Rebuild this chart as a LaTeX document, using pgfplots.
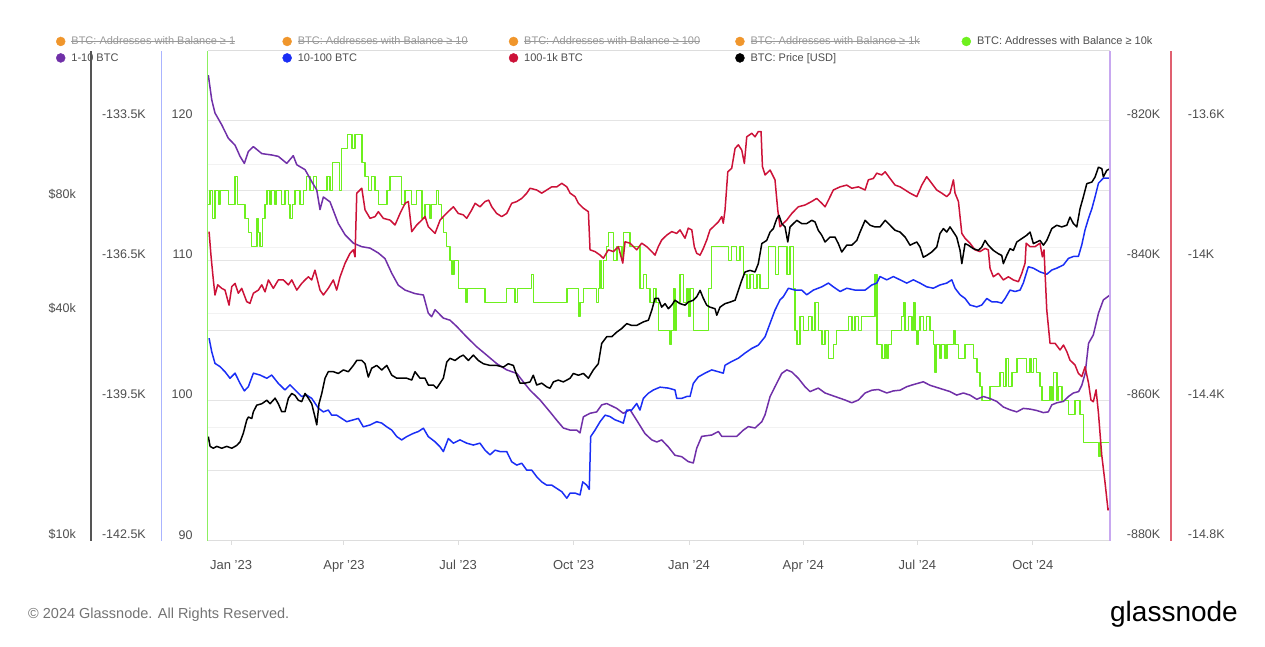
\documentclass[border=0pt]{standalone}
\usepackage{pgfplots}
\pgfplotsset{compat=1.18}
\usepackage{pgfplotstable}
\usepackage{fontspec}
\setmainfont{Liberation Sans}

\newlength\strikew
\newcommand\strike[1]{\settowidth\strikew{#1}\rlap{#1}\rule[0.3em]{\strikew}{0.55pt}}

\definecolor{cPurple}{HTML}{7030A8}
\definecolor{cBlue}{HTML}{1A2EF5}
\definecolor{cRed}{HTML}{CC1238}
\definecolor{cGreen}{HTML}{6EF01E}
\definecolor{cOrange}{HTML}{F0962C}
\definecolor{cTick}{HTML}{4D4D4D}
\definecolor{cStrike}{HTML}{999999}
\definecolor{cGrid}{HTML}{E4E4E4}
\definecolor{cGridFaint}{HTML}{F2F2F2}
\definecolor{cBorder}{HTML}{DDDDDD}
\definecolor{axBlack}{HTML}{555555}
\definecolor{axBlue}{HTML}{AAB4FF}
\definecolor{axGreen}{HTML}{8CF060}
\definecolor{axPurple}{HTML}{C8A8F0}
\definecolor{axRed}{HTML}{E06070}

% d = days since 1 Jan 2023, v = value (thousands)
\pgfplotstableread{
d v
-18.1 114
-16.7 115
-14.9 113
-12.8 115
-10.1 114
-8.8 115
-2.2 114
3.2 116
5.0 114
11.2 113
13.8 112
16.5 111
20.5 113
21.8 112
23.1 111
25.0 113
27.1 114
28.5 115
31.1 114
32.4 115
35.1 114
36.4 115
40.4 114
43.0 115
45.7 114
47.0 113
48.9 114
51.0 115
55.0 114
57.6 115
60.3 116
63.0 115
65.6 116
68.3 115
76.3 116
78.9 115
80.7 117
86.3 115
88.2 118
93.0 119
96.2 118
98.8 119
104.2 117
106.8 116
109.4 115
112.1 116
114.8 115
117.4 114
124.1 115
126.7 116
136.0 114
138.7 115
144.0 114
148.0 115
152.0 113
154.6 114
158.6 113
159.9 114
163.9 115
165.2 114
167.9 113
169.2 112
171.9 111
174.5 110
175.9 109
177.7 110
181.1 108
187.3 107
188.3 108
202.4 107
219.7 108
226.3 107
228.2 108
239.6 109
240.9 107
267.6 108
276.8 106
278.1 107
280.8 108
291.4 107
292.7 108
294.1 110
295.4 108
296.7 110
299.4 111
300.7 112
304.7 110
307.4 111
311.4 110
312.6 112
318.0 111
326.0 108
328.6 109
331.3 108
333.9 107
336.6 108
338.7 107
340.5 105
349.9 104
351.2 105
352.5 108
353.8 105
355.2 107
357.8 109
360.5 107
363.2 108
364.4 106
365.8 108
368.4 105
380.4 108
383.1 111
396.3 110
399.0 111
403.0 110
405.6 111
408.3 109
411.0 108
413.6 109
416.3 108
419.0 109
421.6 108
428.2 111
434.1 109
436.2 111
442.9 109
445.6 111
448.2 108
449.6 105
450.9 104
453.5 106
456.2 105
460.1 106
462.8 105
465.4 107
468.0 105
470.8 104
473.4 105
476.1 103
480.0 104
482.7 105
492.0 106
494.7 105
497.3 106
500.0 105
502.6 106
513.2 109
514.6 104
518.6 103
521.3 104
522.6 103
523.9 104
526.5 105
534.5 106
535.8 107
537.2 105
539.8 106
542.5 105
543.8 107
545.2 105
546.5 104
547.8 105
549.1 106
551.7 105
554.4 106
557.1 105
559.7 104
561.1 102
562.4 104
565.0 103
566.4 104
569.0 103
570.4 104
575.7 105
577.0 104
579.7 103
585.0 104
591.6 103
594.3 102
596.9 101
598.3 100
604.9 101
612.9 102
615.5 101
617.6 103
619.5 101
622.2 102
626.2 103
634.1 102
636.8 103
638.1 102
639.4 103
642.1 102
644.7 101
646.1 100
652.7 101
654.1 100
655.4 102
658.1 100
659.4 101
662.1 100
667.4 99
672.6 100
676.6 99
679.2 97
691.3 96
692.6 97
700.5 97
}\tabgreen

\pgfplotstableread{
d v
-18.1 -813.5
-15.4 -817.0
-12.8 -818.9
-7.4 -820.6
-2.2 -822.5
3.2 -823.5
7.2 -825.1
10.6 -826.1
13.8 -824.4
17.8 -823.7
24.5 -824.7
32.4 -824.9
37.7 -825.1
44.4 -826.1
49.6 -825.0
52.4 -826.3
59.0 -827.0
64.3 -828.7
68.3 -829.9
70.9 -832.7
73.6 -830.9
78.9 -831.6
85.5 -834.7
90.9 -836.3
97.5 -837.5
104.2 -838.0
110.8 -838.2
117.4 -838.9
122.7 -839.7
128.1 -841.8
133.3 -843.5
138.7 -844.2
146.6 -844.7
153.3 -844.9
157.2 -847.5
159.9 -848.0
162.6 -847.0
169.2 -848.2
174.5 -848.5
179.9 -849.4
187.8 -850.9
195.8 -852.3
203.8 -853.5
211.7 -854.7
219.7 -855.6
227.7 -856.1
232.9 -857.3
238.3 -858.5
246.3 -859.9
254.2 -861.6
259.6 -862.8
264.8 -863.9
270.2 -864.2
275.5 -864.2
278.1 -864.6
280.8 -862.3
286.1 -861.8
291.4 -861.6
295.4 -860.6
299.4 -860.4
307.4 -861.1
312.6 -861.8
318.0 -861.3
323.3 -862.8
329.9 -864.7
335.3 -865.6
339.3 -865.9
343.2 -865.6
348.5 -866.6
353.8 -867.8
359.2 -868.0
364.4 -868.7
368.4 -868.9
371.1 -866.8
375.1 -865.1
383.1 -864.9
388.4 -864.4
391.1 -865.1
396.3 -865.1
403.0 -865.1
408.3 -864.2
412.3 -863.7
417.6 -863.9
423.0 -863.0
425.6 -862.0
429.6 -859.4
433.5 -858.0
438.9 -856.1
442.9 -855.6
446.9 -855.9
452.1 -856.8
457.4 -858.0
461.4 -858.7
468.0 -858.2
473.4 -858.9
481.3 -859.4
489.3 -859.9
494.7 -860.3
500.0 -859.9
505.3 -858.9
510.7 -858.5
515.9 -858.4
522.6 -858.9
527.8 -858.6
533.2 -858.5
538.5 -858.0
543.8 -857.7
551.7 -857.3
557.1 -857.8
562.4 -858.1
567.7 -858.4
573.0 -858.7
578.3 -859.2
583.6 -858.9
588.9 -859.2
594.3 -859.8
599.6 -859.4
604.9 -859.7
610.2 -860.1
615.5 -860.9
620.8 -861.3
626.2 -861.6
631.4 -861.1
636.8 -861.2
642.1 -861.4
647.4 -861.7
651.3 -861.6
654.1 -860.6
658.1 -860.3
663.4 -860.1
667.4 -859.4
671.3 -858.9
675.5 -858.7
678.0 -857.8
680.7 -856.1
683.4 -851.8
687.2 -850.6
691.3 -847.5
695.2 -845.6
700.5 -844.9
}\tabpurple

\pgfplotstableread{
d v
-17.5 -138.16
-15.4 -138.45
-12.8 -138.70
-8.8 -138.77
-4.8 -138.88
-0.8 -139.02
3.2 -138.91
7.2 -139.13
10.6 -139.29
13.8 -139.20
17.8 -138.91
23.1 -138.95
28.5 -139.02
32.4 -138.95
37.7 -139.13
43.0 -139.27
47.0 -139.16
51.0 -139.27
56.3 -139.41
60.3 -139.38
64.3 -139.45
69.6 -139.66
73.6 -139.74
77.5 -139.70
80.2 -139.81
84.2 -139.81
88.2 -139.88
92.2 -139.95
97.5 -139.91
101.5 -139.88
105.4 -140.06
110.8 -140.02
116.1 -139.95
120.1 -139.98
124.1 -140.06
128.1 -140.13
132.1 -140.27
136.0 -140.34
140.0 -140.27
145.3 -140.20
149.3 -140.16
153.3 -140.09
157.2 -140.27
162.6 -140.38
166.6 -140.49
169.2 -140.59
173.2 -140.31
177.2 -140.41
182.5 -140.34
187.8 -140.41
193.1 -140.45
198.4 -140.41
202.4 -140.56
206.4 -140.66
210.4 -140.56
214.4 -140.59
219.7 -140.59
223.7 -140.81
227.7 -140.88
231.7 -140.84
235.7 -140.99
239.7 -140.99
243.6 -141.13
247.6 -141.24
251.6 -141.31
255.6 -141.31
259.6 -141.38
263.6 -141.45
267.6 -141.59
270.2 -141.48
274.2 -141.48
278.1 -141.52
280.3 -141.24
283.5 -141.31
285.5 -141.40
286.6 -140.27
290.1 -140.13
294.1 -139.95
298.1 -139.81
302.0 -139.84
306.0 -139.91
310.0 -139.95
312.6 -139.98
315.3 -139.70
319.3 -139.70
323.3 -139.56
325.9 -139.70
328.6 -139.45
332.6 -139.34
336.6 -139.27
341.9 -139.21
348.5 -139.23
353.8 -139.27
355.2 -139.45
359.2 -139.45
363.2 -139.41
365.8 -139.41
368.4 -139.13
372.4 -138.99
377.7 -138.91
383.1 -138.84
388.4 -138.88
392.3 -138.91
393.7 -138.74
399.0 -138.66
404.3 -138.59
409.6 -138.48
415.0 -138.38
420.2 -138.31
425.6 -138.13
429.6 -137.84
433.5 -137.56
437.5 -137.34
440.2 -137.27
444.2 -137.09
449.5 -137.13
454.8 -137.13
458.8 -137.23
464.1 -137.13
470.8 -137.06
476.1 -136.98
480.0 -137.06
485.4 -137.16
490.7 -137.09
497.3 -137.13
505.3 -137.13
510.7 -137.02
514.6 -136.98
517.2 -136.84
522.6 -136.91
527.8 -136.84
533.2 -136.91
538.5 -136.98
543.8 -136.91
549.1 -136.98
554.4 -137.06
559.7 -137.09
565.0 -137.02
570.4 -136.98
574.4 -136.91
577.0 -137.09
581.0 -137.23
585.0 -137.31
588.9 -137.45
594.3 -137.49
598.3 -137.45
602.3 -137.31
606.2 -137.38
610.2 -137.38
614.2 -137.41
616.9 -137.31
620.8 -137.13
624.8 -137.16
628.8 -137.13
631.4 -136.98
635.4 -136.63
639.4 -136.66
644.7 -136.74
650.1 -136.79
654.1 -136.70
658.1 -136.66
663.4 -136.59
667.4 -136.45
671.3 -136.41
675.3 -136.41
678.0 -136.16
680.6 -135.84
683.4 -135.59
686.1 -135.38
688.6 -135.13
691.3 -134.84
695.2 -134.73
700.5 -134.73
}\tabblue

\pgfplotstableread{
d v
-17.5 -13.917
-15.9 -13.989
-14.1 -14.055
-12.8 -14.098
-10.6 -14.069
-7.4 -14.079
-4.8 -14.084
-1.6 -14.127
0.6 -14.074
3.2 -14.065
5.8 -14.093
8.5 -14.079
12.5 -14.117
15.1 -14.122
17.8 -14.093
21.8 -14.084
24.5 -14.069
27.1 -14.089
29.8 -14.055
33.7 -14.079
37.7 -14.055
41.7 -14.055
45.7 -14.069
48.4 -14.055
52.4 -14.084
56.3 -14.065
59.0 -14.055
61.6 -14.046
64.3 -14.055
66.9 -14.027
70.9 -14.084
73.6 -14.098
77.5 -14.079
81.5 -14.055
84.2 -14.084
86.9 -14.046
90.9 -14.007
94.8 -13.979
97.5 -13.969
98.8 -13.989
100.2 -13.807
104.2 -13.793
106.8 -13.855
110.8 -13.879
114.8 -13.874
117.4 -13.860
121.4 -13.879
126.7 -13.884
130.7 -13.898
134.7 -13.865
138.7 -13.836
141.3 -13.831
144.0 -13.917
148.0 -13.898
152.0 -13.884
154.6 -13.874
157.2 -13.903
162.6 -13.922
166.6 -13.884
170.5 -13.869
174.5 -13.855
177.2 -13.846
181.1 -13.865
185.1 -13.869
187.8 -13.879
191.8 -13.855
194.5 -13.836
198.4 -13.846
202.4 -13.831
205.3 -13.827
207.8 -13.846
211.7 -13.865
215.7 -13.874
219.7 -13.865
223.7 -13.836
227.7 -13.831
231.7 -13.822
235.7 -13.807
238.3 -13.793
243.6 -13.798
247.6 -13.807
251.6 -13.798
255.6 -13.789
259.6 -13.789
263.6 -13.779
267.6 -13.789
270.2 -13.807
274.2 -13.817
276.8 -13.836
280.8 -13.850
284.8 -13.860
286.1 -13.969
290.1 -13.974
294.1 -13.984
296.7 -13.993
300.7 -13.969
304.7 -13.974
308.7 -13.960
312.2 -14.007
314.0 -13.946
318.0 -13.950
323.3 -13.969
327.3 -13.950
331.3 -13.960
335.3 -13.974
337.9 -13.984
340.5 -13.960
343.2 -13.941
347.2 -13.927
351.2 -13.917
355.2 -13.922
357.8 -13.912
361.8 -13.936
364.4 -13.907
367.2 -13.912
369.2 -13.960
371.1 -13.979
373.8 -13.984
376.4 -13.965
379.1 -13.941
381.7 -13.912
384.4 -13.903
388.4 -13.889
391.1 -13.874
392.3 -13.893
393.7 -13.855
395.9 -13.746
399.0 -13.736
401.7 -13.679
404.3 -13.669
407.0 -13.684
409.1 -13.722
411.0 -13.646
415.0 -13.636
417.6 -13.646
420.2 -13.631
422.4 -13.631
423.5 -13.731
425.6 -13.755
429.6 -13.741
433.5 -13.769
435.7 -13.855
437.5 -13.903
440.2 -13.893
442.9 -13.884
446.9 -13.865
452.1 -13.846
457.4 -13.841
462.7 -13.831
466.7 -13.822
470.8 -13.836
473.4 -13.846
476.1 -13.827
480.0 -13.798
485.4 -13.789
490.7 -13.784
494.7 -13.793
500.0 -13.789
505.3 -13.798
507.9 -13.769
511.9 -13.765
514.6 -13.750
518.6 -13.755
521.3 -13.746
525.2 -13.765
529.2 -13.784
533.2 -13.789
537.2 -13.798
541.1 -13.807
546.5 -13.817
550.5 -13.784
554.4 -13.760
558.4 -13.779
562.4 -13.798
566.4 -13.807
570.4 -13.817
573.0 -13.807
575.7 -13.769
577.0 -13.807
579.7 -13.831
582.4 -13.922
585.0 -13.936
588.9 -13.950
592.9 -13.969
596.9 -13.974
600.9 -13.965
603.5 -13.969
604.9 -14.022
607.5 -14.046
611.5 -14.036
615.5 -14.055
619.5 -14.046
623.5 -14.055
627.5 -14.060
630.2 -14.036
632.8 -14.007
633.7 -13.950
636.8 -13.960
640.7 -13.960
644.7 -13.950
646.6 -13.989
647.9 -13.969
650.1 -14.141
652.7 -14.236
656.7 -14.236
660.7 -14.255
663.4 -14.241
666.1 -14.260
668.6 -14.284
672.6 -14.298
675.3 -14.322
678.0 -14.331
680.6 -14.303
683.4 -14.350
685.3 -14.398
687.2 -14.403
689.4 -14.369
691.3 -14.436
693.9 -14.555
696.6 -14.636
698.9 -14.712
700.5 -14.707
}\tabred

\pgfplotstableread{
d v
-18.1 18.9
-16.7 17.8
-14.1 17.6
-11.4 17.8
-7.4 17.6
-3.4 17.8
0.6 17.6
4.5 17.9
7.2 18.3
9.8 19.3
12.5 20.9
13.8 21.3
16.5 21.1
17.8 22.0
20.5 22.9
24.5 23.1
28.5 23.6
31.1 23.1
35.1 23.9
37.7 23.1
40.4 22.0
43.0 22.0
45.7 23.9
48.4 24.6
51.0 24.3
53.6 23.6
56.3 23.4
59.0 24.6
61.6 23.9
64.3 23.1
66.9 21.3
68.3 20.3
70.1 23.1
72.3 24.6
74.9 27.0
77.5 28.1
81.5 28.1
85.5 27.8
89.5 28.4
93.5 28.1
97.5 29.2
100.2 30.1
104.2 30.1
106.8 29.5
109.4 27.2
112.1 28.7
116.1 29.2
120.1 28.4
124.1 29.2
128.1 27.5
132.1 27.0
136.0 27.0
140.0 27.0
144.0 26.7
146.6 28.1
150.6 27.0
154.6 27.0
157.2 25.9
161.2 25.9
163.9 25.4
166.6 26.2
169.2 27.0
171.9 29.8
174.5 30.5
178.5 30.1
182.5 30.8
185.1 31.1
189.1 30.1
193.1 31.1
197.1 30.1
201.1 29.5
206.4 29.2
211.7 29.2
217.0 28.9
221.0 29.5
225.0 29.2
227.7 27.5
230.3 26.2
234.3 26.2
238.3 26.4
240.9 27.5
243.6 25.9
247.6 26.2
251.6 25.6
254.2 25.4
256.9 26.4
260.8 26.7
264.8 26.4
267.6 26.7
270.2 27.0
272.8 27.8
276.8 27.5
280.8 27.8
284.8 27.0
288.7 28.4
292.7 29.5
295.4 33.4
299.4 34.8
303.4 34.8
307.4 35.8
311.4 36.6
315.3 37.7
319.3 37.3
323.3 37.3
328.6 38.1
332.6 38.5
335.3 40.9
337.9 44.0
340.5 44.0
343.2 41.7
345.9 42.6
348.5 41.3
351.2 42.2
353.8 43.5
357.8 42.6
361.8 42.2
364.4 43.0
368.4 43.5
371.1 44.4
373.8 46.2
376.4 44.0
379.1 42.2
381.7 41.7
385.7 41.3
387.1 39.7
389.7 41.7
393.7 42.6
397.7 43.0
401.7 43.5
404.3 46.2
407.0 49.1
409.6 51.7
413.6 52.2
417.6 51.7
420.2 54.4
423.0 61.5
426.9 62.7
429.6 66.0
432.2 67.4
434.9 71.6
436.7 73.1
438.9 69.5
441.5 68.1
443.7 62.1
445.5 68.1
448.2 69.5
450.9 70.9
454.8 69.5
458.8 69.5
462.8 70.9
465.4 70.2
468.0 66.7
470.8 64.7
473.4 62.1
477.4 64.0
481.3 64.0
484.0 61.5
486.7 58.4
490.7 60.9
494.7 60.9
498.7 62.7
501.3 66.0
505.3 70.9
509.3 68.8
513.2 68.1
517.2 68.1
521.3 70.9
525.2 68.8
529.2 66.7
533.2 66.0
537.2 64.0
541.1 60.9
543.8 61.5
546.5 62.1
549.1 60.2
551.7 56.6
554.4 57.2
558.4 58.4
562.4 60.2
565.0 65.4
567.7 67.4
570.4 66.0
573.0 68.1
575.7 66.0
578.3 64.0
581.0 59.0
582.4 54.4
585.0 61.5
587.6 60.9
591.6 59.6
595.6 59.0
598.3 60.2
600.9 62.7
603.5 60.9
607.5 59.0
611.5 57.8
614.2 57.2
615.5 54.4
618.2 57.2
620.8 59.6
623.5 59.0
626.2 62.1
630.2 63.4
634.1 64.7
636.8 66.0
639.4 61.5
642.1 62.1
644.7 62.7
647.4 60.9
650.1 62.7
654.1 67.4
658.1 68.8
662.1 68.1
666.1 68.8
668.6 72.3
671.3 69.5
674.0 68.1
676.6 76.1
679.2 81.7
682.0 88.7
686.1 89.6
688.6 92.4
691.3 98.1
694.0 97.2
695.2 92.4
697.9 96.2
700.5 97.2
}\tabprice

\pgfplotsset{
  layer/.style={
    scale only axis, width=902.3pt, height=490pt,
    at={(207.7pt,106.3pt)}, anchor=south west,
    xmin=-18.6, xmax=700.5,
    axis line style={draw=none},
    major tick length=0pt, minor tick length=0pt,
    tick label style={font=\fontsize{12.5}{14}\selectfont, text=cTick},
    yticklabel style={inner sep=0pt, yshift=6pt},
    xtick=\empty,
  },
  leftlab/.style={yticklabel style={anchor=east, xshift=#1}},
  rightlab/.style={yticklabel pos=right, yticklabel style={anchor=west, xshift=#1}},
  series/.style={line width=1.5pt, color=#1, line join=round},
}

\begin{document}
\begin{tikzpicture}
\path[use as bounding box] (0,0) rectangle (1265pt,647pt);

% price scale: labels and faint grid
\begin{axis}[layer, ymode=log, ymin=10, ymax=200,
  ytick={10,40,80}, yticklabels={\$10k,\$40k,\$80k}, leftlab=-131.7pt,
  extra y ticks={20,40,60,100}, extra y tick labels={},
  extra y tick style={grid=major}, major grid style={draw=cGridFaint, line width=1pt}]
\end{axis}

% addresses with balance >= 10k, time axis, legend
\begin{axis}[layer, ymin=90, ymax=125,
  ytick={90,100,110,120}, yticklabels={90,100,110,120}, leftlab=-15pt,
  minor ytick={95,105,115}, ymajorgrids, yminorgrids,
  major grid style={draw=cGrid, line width=1pt}, minor grid style={draw=cGrid, line width=1pt},
  xtick={0,90,181,273,365,456,547,639},
  xticklabels={Jan '23,Apr '23,Jul '23,Oct '23,Jan '24,Apr '24,Jul '24,Oct '24},
  xtick pos=bottom, xtick align=outside, major tick length=4pt,
  xtick style={draw=cBorder, line width=1pt}, ytick style={draw=none},
  xticklabel style={anchor=base, inner sep=0pt, yshift=-25pt, font=\fontsize{13}{15}\selectfont},
  legend columns=5, legend cell align=left,
  legend image code/.code={\fill (4.5pt,0pt) circle (4.5pt);},
  legend style={draw=none, fill=none, inner sep=0pt, anchor=north west,
    at={(axis description cs:-0.1683,1.033)},
    font=\fontsize{11}{13}\selectfont, text=cTick,
    /tikz/every odd column/.append style={column sep=4pt},
    /tikz/row sep=3pt},
]
\addlegendimage{color=cOrange}
\addlegendentry{\makebox[209pt][l]{\color{cStrike}\strike{BTC: Addresses with Balance ≥ 1}}}
\addlegendimage{color=cOrange}
\addlegendentry{\makebox[209pt][l]{\color{cStrike}\strike{BTC: Addresses with Balance ≥ 10}}}
\addlegendimage{color=cOrange}
\addlegendentry{\makebox[209pt][l]{\color{cStrike}\strike{BTC: Addresses with Balance ≥ 100}}}
\addlegendimage{color=cOrange}
\addlegendentry{\makebox[209pt][l]{\color{cStrike}\strike{BTC: Addresses with Balance ≥ 1k}}}
\addlegendimage{color=cGreen}
\addlegendentry{\makebox[209pt][l]{BTC: Addresses with Balance ≥ 10k}}
\addlegendimage{color=cPurple}
\addlegendentry{\makebox[209pt][l]{1-10 BTC}}
\addlegendimage{color=cBlue}
\addlegendentry{\makebox[209pt][l]{10-100 BTC}}
\addlegendimage{color=cRed}
\addlegendentry{\makebox[209pt][l]{100-1k BTC}}
\addlegendimage{color=black}
\addlegendentry{\makebox[209pt][l]{BTC: Price [USD]}}
\addplot[series=cGreen, const plot, forget plot] table {\tabgreen};
\end{axis}

% 1-10 BTC
\begin{axis}[layer, ymin=-880, ymax=-810,
  ytick={-880,-860,-840,-820}, yticklabels={-880K,-860K,-840K,-820K}, rightlab=16.7pt]
\addplot[series=cPurple] table {\tabpurple};
\end{axis}

% 10-100 BTC
\begin{axis}[layer, ymin=-142.5, ymax=-132,
  ytick={-142.5,-139.5,-136.5,-133.5}, yticklabels={-142.5K,-139.5K,-136.5K,-133.5K}, leftlab=-61.7pt]
\addplot[series=cBlue] table {\tabblue};
\end{axis}

% 100-1k BTC
\begin{axis}[layer, ymin=-14.8, ymax=-13.4,
  ytick={-14.8,-14.4,-14,-13.6}, yticklabels={-14.8K,-14.4K,-14K,-13.6K}, rightlab=77.7pt]
\addplot[series=cRed] table {\tabred};
\end{axis}

% price
\begin{axis}[layer, ymode=log, ymin=10, ymax=200, ytick=\empty]
\addplot[series=black] table {\tabprice};
\end{axis}

% frame and coloured scale lines
\draw[cBorder, line width=1pt] (207.7pt,106.3pt) -- (1110pt,106.3pt);
\draw[cBorder, line width=1pt] (207.7pt,596.3pt) -- (1110pt,596.3pt);
\draw[axBlack, line width=1.3pt] (91pt,106.3pt) -- (91pt,596.3pt);
\draw[axBlue, line width=1.3pt] (161.7pt,106.3pt) -- (161.7pt,596.3pt);
\draw[axGreen, line width=1.3pt] (207.7pt,106.3pt) -- (207.7pt,596.3pt);
\draw[axPurple, line width=1.3pt] (1110pt,106.3pt) -- (1110pt,596.3pt);
\draw[axRed, line width=1.3pt] (1171pt,106.3pt) -- (1171pt,596.3pt);

\node[anchor=base west, inner sep=0pt, text=black!55, font=\fontsize{14.5}{16}\selectfont] at (28pt,28pt) {© 2024 Glassnode. All Rights Reserved.};
\node[anchor=base east, inner sep=0pt, text=black, font=\fontsize{28}{30}\selectfont] at (1238pt,25pt) {glassnode};
\end{tikzpicture}
\end{document}
